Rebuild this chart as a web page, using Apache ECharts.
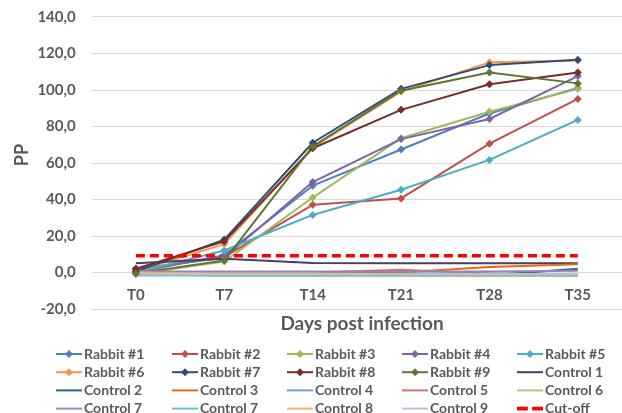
<!DOCTYPE html>
<html><head><meta charset="utf-8">
<script src="https://cdn.jsdelivr.net/npm/echarts@6/dist/echarts.min.js"></script>
<style>html,body{margin:0;padding:0;background:#fff}#c{width:622px;height:413px}</style>
</head><body><div id="c"></div>
<script>
const categories = ['T0','T7','T14','T21','T28','T35'];
const rabbit1 = [0, 9.5, 47.5, 67.3, 87, 101];
const rabbit2 = [1.5, 8.5, 37, 40.5, 70.5, 95];
const rabbit3 = [-1, 6, 41, 73.5, 88, 100.5];
const rabbit4 = [2, 8, 49.5, 73, 84, 107.5];
const rabbit5 = [0, 12, 31.5, 45.3, 61.6, 83.5];
const rabbit6 = [0.5, 15.5, 68.5, 99, 115, 116];
const rabbit7 = [0.5, 18, 71, 100.5, 113.5, 116.5];
const rabbit8 = [2, 17, 68, 89, 103, 109.5];
const rabbit9 = [-0.5, 6.5, 69, 99.5, 109.5, 103.5];
const control1 = [5, 7.5, 5.2, 5, 5, 5];
const control2 = [-1, -1, -1, -1, -1.5, 2];
const control3 = [0.5, 0, 0, 0, 3, 4.5];
const control4 = [-1.5, -1.5, -1.5, -1.5, -1.5, -1.5];
const control5 = [0, 0, 0, 1.5, -0.5, -1];
const control6 = [-1, -2, -2, -2, -2, -2];
const control7a = [0.5, 0.5, 0.5, 0.5, 0.5, 1];
const control7b = [-1.5, -1.5, -1.5, -1.5, -1.5, -1.5];
const control8 = [0, -0.5, -0.5, -1, -1, -1];
const control9 = [-1, -1, -1, -1, -1, -1];
const cutoff = [9.2, 9.2, 9.2, 9.2, 9.2, 9.2];

const rabbitSeries = [
  ['Rabbit #1', rabbit1, '#4F81BD'],
  ['Rabbit #2', rabbit2, '#C0504D'],
  ['Rabbit #3', rabbit3, '#9BBB59'],
  ['Rabbit #4', rabbit4, '#8064A2'],
  ['Rabbit #5', rabbit5, '#4BACC6'],
  ['Rabbit #6', rabbit6, '#F79646'],
  ['Rabbit #7', rabbit7, '#2C4D75'],
  ['Rabbit #8', rabbit8, '#772C2A'],
  ['Rabbit #9', rabbit9, '#5F7530']
];
const controlSeries = [
  ['Control 1', control1, '#4D3B62'],
  ['Control 2', control2, '#276A7C'],
  ['Control 3', control3, '#E46C0A'],
  ['Control 4', control4, '#729ACA'],
  ['Control 5', control5, '#CD7371'],
  ['Control 6', control6, '#AFC97A'],
  ['Control 7', control7a, '#9983B5'],
  ['Control 7 ', control7b, '#6FBDD1'],
  ['Control 8', control8, '#F9AB6B'],
  ['Control 9', control9, '#B0C4DE']
];

const FONT = 'Lato';
const TXT = '#595959';
const series = [];
const iconOf = {};
rabbitSeries.forEach(([n, d, c]) => series.push({
  name: n, type: 'line', data: d, symbol: 'diamond', symbolSize: 8,
  itemStyle: {color: c}, lineStyle: {color: c, width: 2}, animation: false
}));
controlSeries.forEach(([n, d, c]) => {
  iconOf[n] = 'path://M0,0 L26,0 L26,2 L0,2 Z';
  series.push({
    name: n, type: 'line', data: d, symbol: 'none', showSymbol: false,
    itemStyle: {color: c}, lineStyle: {color: c, width: 2}, animation: false
  });
});
iconOf['Cut-off'] = 'path://M0,0 L10,0 L10,3.5 L0,3.5 Z M14,0 L24,0 L24,3.5 L14,3.5 Z';
series.push({
  name: 'Cut-off', type: 'line', data: cutoff, symbol: 'none', showSymbol: false,
  itemStyle: {color: '#FF0000'}, lineStyle: {color: '#FF0000', width: 3.5, type: [9, 5]}, animation: false
});

const allNames = series.map(s => s.name);
const colX = [55, 171, 286, 401, 516];
const legends = colX.map((x, i) => ({
  orient: 'vertical', left: x, top: 347, height: 90, width: 110,
  data: [allNames[i], allNames[i+5], allNames[i+10], allNames[i+15]].map(n =>
    iconOf[n] ? {name: n, icon: iconOf[n]} : {name: n}),
  itemWidth: 26, itemHeight: 10, itemGap: 4.2,
  formatter: n => n.trim(),
  textStyle: {fontFamily: FONT, fontWeight: 'bold', fontSize: 14, color: TXT, lineHeight: 14, padding: [0,0,0,-3]},
  padding: 0, selectedMode: false
}));

const chart = echarts.init(document.getElementById('c'));
chart.setOption({
  backgroundColor: '#fff',
  animation: false,
  grid: {left: 91.7, top: 16.7, width: 544.8, height: 292.3, containLabel: false},
  legend: legends,
  xAxis: {
    type: 'category', data: categories, boundaryGap: true,
    position: 'bottom', offset: -36.7,
    axisLine: {show: false, onZero: false}, axisTick: {show: false},
    axisLabel: {fontFamily: FONT, fontWeight: 'bold', fontSize: 15, color: TXT, margin: 15},
    splitLine: {show: false}
  },
  yAxis: {
    type: 'value', min: -20, max: 140, interval: 20,
    axisLine: {show: false}, axisTick: {show: false},
    axisLabel: {fontFamily: FONT, fontWeight: 'bold', fontSize: 15, color: TXT, margin: 16,
      formatter: v => v.toFixed(1).replace('.', ',')},
    splitLine: {lineStyle: {color: '#D9D9D9', width: 1}}
  },
  graphic: [
    {type: 'text', style: {text: 'Days post infection', align: 'center', verticalAlign: 'middle',
      font: 'bold 19px ' + FONT, fill: TXT}, x: 362, y: 324},
    {type: 'text', style: {text: 'PP', align: 'center', verticalAlign: 'middle', font: 'bold 18px ' + FONT, fill: TXT},
      x: 21.7, y: 155, rotation: Math.PI / 2}
  ],
  series: series
});
</script></body></html>
